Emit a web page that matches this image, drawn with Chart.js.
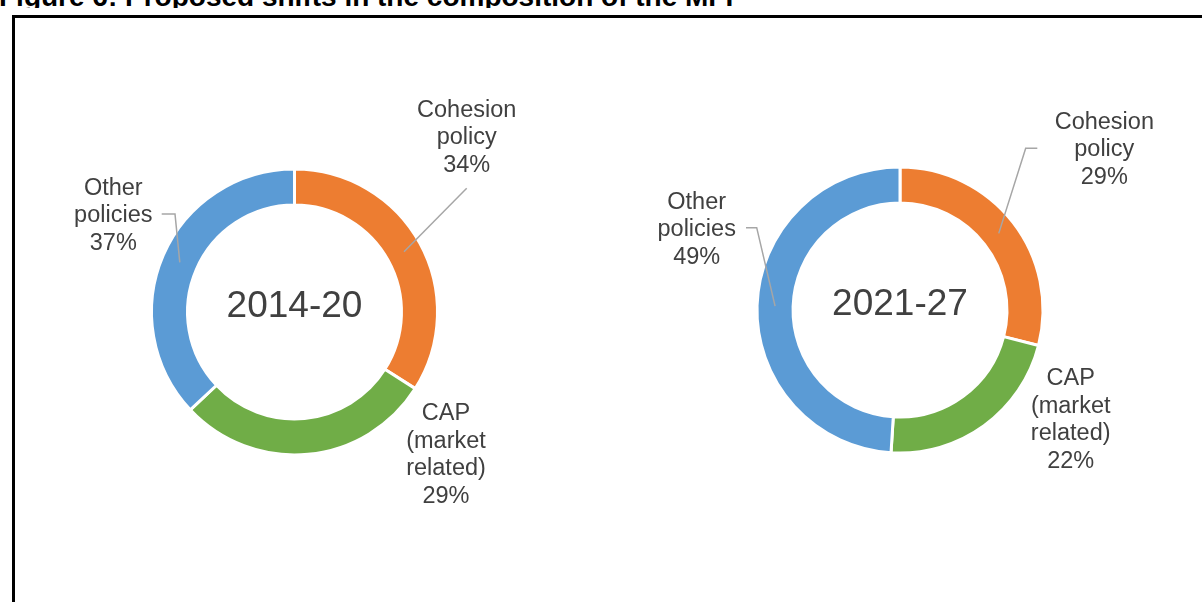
<!DOCTYPE html>
<html>
<head>
<meta charset="utf-8">
<script src="https://cdn.jsdelivr.net/npm/chart.js@4.4.1/dist/chart.umd.min.js"></script>
<style>
  body { margin: 0; background: #fff; width: 1202px; height: 602px; overflow: hidden; position: relative; font-family: "Liberation Sans", Arial, sans-serif; }
  .title-clip { position: absolute; left: 0; top: 0; width: 1202px; height: 8px; overflow: hidden; }
  .title { position: absolute; left: -1px; top: -19px; font: bold 28px "Liberation Sans", Arial, sans-serif; color: #000; white-space: nowrap; line-height: 32px; }
  .frame { position: absolute; left: 12px; top: 15px; width: 1300px; height: 700px; border-top: 3px solid #000; border-left: 3px solid #000; }
  canvas { position: absolute; }
  #chart1 { left: 15px; top: 18px; }
  #chart2 { left: 600px; top: 18px; }
</style>
</head>
<body>
<div class="title-clip"><div class="title">Figure 6: Proposed shifts in the composition of the MFF</div></div>
<div class="frame"></div>
<canvas id="chart1" width="585" height="584"></canvas>
<canvas id="chart2" width="602" height="584"></canvas>
<script>
//Categories, each split into the lines of its label
const categories = ["Cohesion policy", "CAP (market related)", "Other policies"];
const categoryLines = [["Cohesion", "policy"], ["CAP", "(market", "related)"], ["Other", "policies"]];
//Shares in percent
const values2014 = [34, 29, 37];
const values2021 = [29, 22, 49];
const periods = ["2014-20", "2021-27"];

const colors = ["#ED7D31", "#70AD47", "#5B9BD5"];
const textColor = "#404040";
const leaderColor = "#A6A6A6";
const fontFamily = "'Liberation Sans', Arial, sans-serif";

//Draws the period in the middle and the labels with their leader lines
const sliceLabels = {
  id: "sliceLabels",
  afterDatasetsDraw(chart, args, opts) {
    const ctx = chart.ctx;
    const meta = chart.getDatasetMeta(0);
    const values = chart.data.datasets[0].data;
    const cx = meta.data[0].x;
    const cy = meta.data[0].y;
    ctx.save();
    ctx.fillStyle = textColor;
    ctx.textAlign = "center";
    ctx.textBaseline = "middle";
    ctx.font = "37px " + fontFamily;
    ctx.fillText(opts.centerText, cx, cy - 5);

    ctx.font = "23.5px " + fontFamily;
    meta.data.forEach((arc, i) => {
      const pos = opts.positions[i];
      const lx = cx + pos.dx;
      const ly = cy + pos.dy;
      const lines = categoryLines[i].concat(values[i] + "%");
      const lineHeight = 27.5;
      let y = ly - ((lines.length - 1) * lineHeight) / 2;
      for (const line of lines) {
        ctx.fillText(line, lx, y);
        y += lineHeight;
      }
      if (pos.leader) {
        const end = arc.getCenterPoint();
        ctx.strokeStyle = leaderColor;
        ctx.lineWidth = 1.5;
        ctx.beginPath();
        ctx.moveTo(lx + pos.leader[0][0], ly + pos.leader[0][1]);
        for (let k = 1; k < pos.leader.length; k++) {
          ctx.lineTo(lx + pos.leader[k][0], ly + pos.leader[k][1]);
        }
        ctx.lineTo(end.x, end.y);
        ctx.stroke();
      }
    });
    ctx.restore();
  },
};

function makeDoughnut(canvas, values, centerText, padding, positions) {
  return new Chart(canvas, {
    type: "doughnut",
    data: {
      labels: categories,
      datasets: [
        {
          data: values,
          backgroundColor: colors,
          borderColor: "#ffffff",
          borderWidth: 3,
        },
      ],
    },
    options: {
      responsive: false,
      animation: false,
      radius: 143,
      cutout: "74.8%",
      layout: { padding: padding },
      plugins: {
        legend: { display: false },
        tooltip: { enabled: false },
        sliceLabels: { centerText: centerText, positions: positions },
      },
    },
    plugins: [sliceLabels],
  });
}

makeDoughnut(
  document.getElementById("chart1"),
  values2014,
  periods[0],
  { left: 138, right: 164, top: 152.5, bottom: 148.5 },
  [
    { dx: 172.2, dy: -174.2, leader: [[0, 50.5]] },
    { dx: 151.5, dy: 142.8 },
    { dx: -181.2, dy: -96.3, leader: [[48.4, -1.7], [61.7, -1.7]] },
  ]
);

makeDoughnut(
  document.getElementById("chart2"),
  values2021,
  periods[1],
  { left: 158.5, right: 160.5, top: 150.5, bottom: 150.5 },
  [
    { dx: 204.3, dy: -160, leader: [[-67, -1.7], [-78.6, -1.7]] },
    { dx: 170.7, dy: 110 },
    { dx: -203.3, dy: -80, leader: [[49.3, -2.3], [60, -2.3]] },
  ]
);
</script>
</body>
</html>
